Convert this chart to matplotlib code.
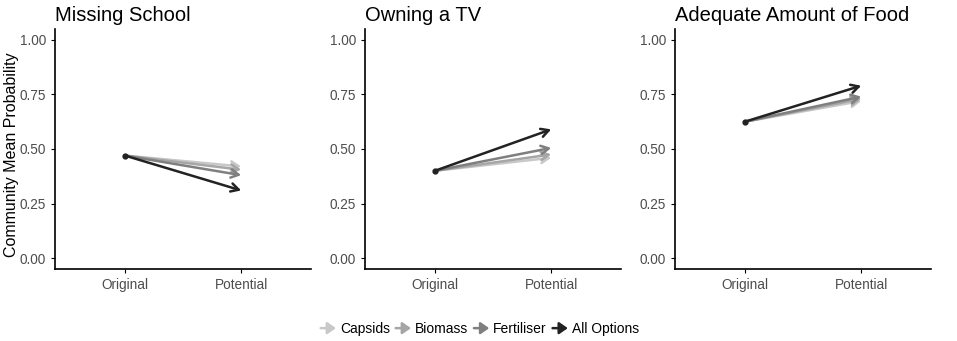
import matplotlib
matplotlib.use("Agg")
import matplotlib.pyplot as plt
from matplotlib.lines import Line2D
from matplotlib.legend_handler import HandlerBase
from matplotlib.patches import FancyArrowPatch

plt.rcParams['font.family'] = ['Liberation Sans', 'DejaVu Sans']

titles = ["Missing School", "Owning a TV", "Adequate Amount of Food"]
x_labels = ["Original", "Potential"]
series = ["Capsids", "Biomass", "Fertiliser", "All Options"]
colors = ["#c8c8c8", "#a6a6a6", "#7f7f7f", "#222222"]
original = [0.47, 0.40, 0.625]
potential = {
    "Capsids":     [0.42, 0.46, 0.72],
    "Biomass":     [0.405, 0.475, 0.73],
    "Fertiliser":  [0.38, 0.505, 0.74],
    "All Options": [0.31, 0.59, 0.79],
}
y_ticks = [0.0, 0.25, 0.5, 0.75, 1.0]
y_tick_labels = ["0.00", "0.25", "0.50", "0.75", "1.00"]

W, H = 957, 341
fig = plt.figure(figsize=(W/100, H/100), dpi=100)
lefts = [55, 365, 675]
aw = 256
bottom_px, top_px = 269, 29

for i, title in enumerate(titles):
    ax = fig.add_axes([lefts[i]/W, 1 - bottom_px/H, aw/W, (bottom_px - top_px)/H])
    ax.set_xlim(0.4, 2.6)
    ax.set_ylim(-0.05, 1.05)
    for s, c in zip(series, colors):
        ax.annotate("", xy=(2, potential[s][i]), xytext=(1, original[i]),
                    arrowprops=dict(arrowstyle="->,head_length=0.55,head_width=0.3",
                                    color=c, lw=1.8, shrinkA=0, shrinkB=0))
    ax.plot([1], [original[i]], 'o', color="#222222", ms=3.5, zorder=5)
    ax.set_xticks([1, 2])
    ax.set_xticklabels(x_labels)
    ax.set_yticks(y_ticks)
    ax.set_yticklabels(y_tick_labels)
    for sp in ["top", "right"]:
        ax.spines[sp].set_visible(False)
    for sp in ["left", "bottom"]:
        ax.spines[sp].set_linewidth(1.2)
        ax.spines[sp].set_color("black")
    ax.tick_params(axis="both", labelsize=9.8, colors="#4d4d4d", length=3, width=0.8)
    ax.tick_params(axis="both", color="black")
    ax.set_title(title, loc="left", fontsize=14.5, pad=6, x=0.0)
    if i == 0:
        ax.set_ylabel("Community Mean Probability", fontsize=11.5)
        ax.yaxis.set_label_coords(-0.142, 0.475)

class ArrowHandler(HandlerBase):
    def create_artists(self, legend, orig_handle, xdescent, ydescent, width, height, fontsize, trans):
        c = orig_handle.get_color()
        p = FancyArrowPatch((0, height/2), (width, height/2),
                            arrowstyle="-|>,head_length=0.5,head_width=0.35",
                            color=c, lw=1.8, mutation_scale=fontsize, transform=trans)
        return [p]

handles = [Line2D([], [], color=c) for c in colors]
fig.legend(handles, series, loc="center", bbox_to_anchor=(0.5, 1 - 329/H), ncol=4,
           frameon=False, fontsize=10, handler_map={Line2D: ArrowHandler()},
           handlelength=1.5, handletextpad=0.1, columnspacing=0.2)

fig.savefig("out.png", dpi=100)
